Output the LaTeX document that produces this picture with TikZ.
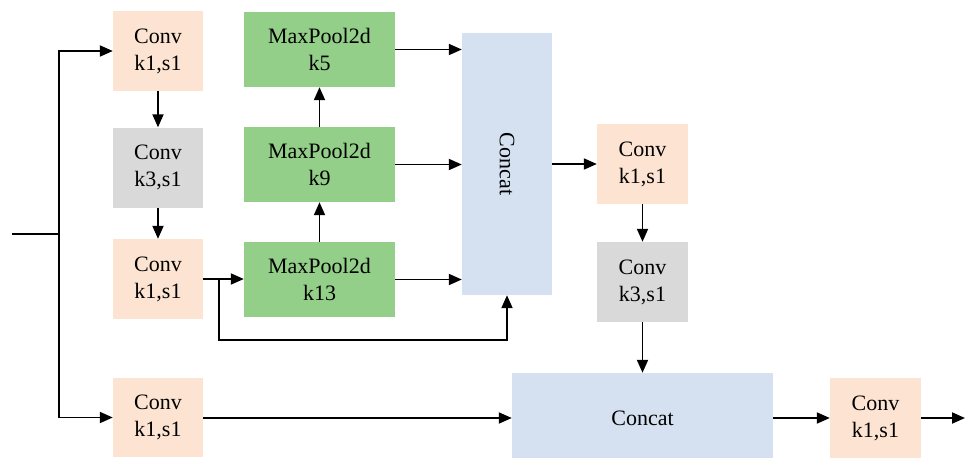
\documentclass[tikz,border=0pt]{standalone}
\usepackage{fontspec}
\setmainfont{Liberation Serif}
\usetikzlibrary{arrows.meta}

\definecolor{convpeach}{HTML}{FDE4D2}
\definecolor{convgray}{HTML}{D9D9D9}
\definecolor{poolgreen}{HTML}{93CF88}
\definecolor{catblue}{HTML}{D5E1F1}

\tikzset{
  blk/.style={draw=none, inner sep=0pt, align=center,
    font=\fontsize{22}{27}\selectfont},
  convk1/.style={blk, fill=convpeach, minimum width=90pt, minimum height=80pt},
  convk3/.style={blk, fill=convgray, minimum width=90pt, minimum height=80pt},
  pool/.style={blk, fill=poolgreen, minimum width=151pt, minimum height=75pt},
  cat/.style={blk, fill=catblue},
  wire/.style={line width=1.9pt, black},
  arr/.style={wire, -{Triangle[length=13pt,width=11pt]}}
}

\begin{document}
\begin{tikzpicture}[x=1pt, y=-1pt]
\useasboundingbox (0,0) rectangle (965,458);

% left column of convolutions
\node[convk1] (c1) at (158,51) {Conv\\k1,s1};
\node[convk3] (c2) at (158,167.5) {Conv\\k3,s1};
\node[convk1] (c3) at (158,279) {Conv\\k1,s1};
\node[convk1, minimum height=79pt] (cb) at (158,417.5) {Conv\\k1,s1};

% max-pool stack
\node[pool] (p5) at (319.5,49.5) {MaxPool2d\\k5};
\node[pool] (p9) at (319.5,164.5) {MaxPool2d\\k9};
\node[pool] (p13) at (319.5,279.5) {MaxPool2d\\k13};

% first concatenation
\node[cat, minimum width=90pt, minimum height=262pt] (cat1) at (507,164) {};
\node[font=\fontsize{22}{27}\selectfont, rotate=-90] (cat1t) at (507,164) {Concat};

% right column
\node[convk1, minimum width=91pt] (c4) at (642.5,164) {Conv\\k1,s1};
\node[convk3, minimum width=91pt] (c5) at (642.5,282) {Conv\\k3,s1};

% second concatenation and output convolution
\node[cat, minimum width=261pt, minimum height=85pt] (cat2) at (642.5,415.5) {};
\node[font=\fontsize{22}{27}\selectfont] (cat2t) at (642.5,418) {Concat};
\node[convk1, minimum width=91pt, minimum height=80pt] (cf) at (875.5,418) {Conv\\k1,s1};

% input and split
\coordinate (in) at (12,234);
\coordinate (split) at (59,234);
\coordinate (br) at (219,279);
\coordinate (loop) at (219,340);
\coordinate (out) at (965,418);

\draw[wire] (in) -- (split);
\draw[arr] (split) |- (c1.west);
\draw[arr] (split) |- (cb.west);

\draw[arr] (c1) -- (c2);
\draw[arr] (c2) -- (c3);
\draw[arr] (c3.east |- br) -- (p13.west |- br);
\draw[arr] (br) -- (loop) -| (cat1.south);

\draw[arr] (p13) -- (p9);
\draw[arr] (p9) -- (p5);
\draw[arr] (p5.east) -- (p5.east -| cat1.west);
\draw[arr] (p9.east) -- (p9.east -| cat1.west);
\draw[arr] (p13.east) -- (p13.east -| cat1.west);

\draw[arr] (cat1.east |- c4) -- (c4.west);
\draw[arr] (c4) -- (c5);
\draw[arr] (c5.south) -- (c5.south |- cat2.north);

\draw[arr] (cb.east |- cf) -- (cf -| cat2.west);
\draw[arr] (cf -| cat2.east) -- (cf.west);
\draw[arr] (cf.east) -- (out);
\end{tikzpicture}
\end{document}
